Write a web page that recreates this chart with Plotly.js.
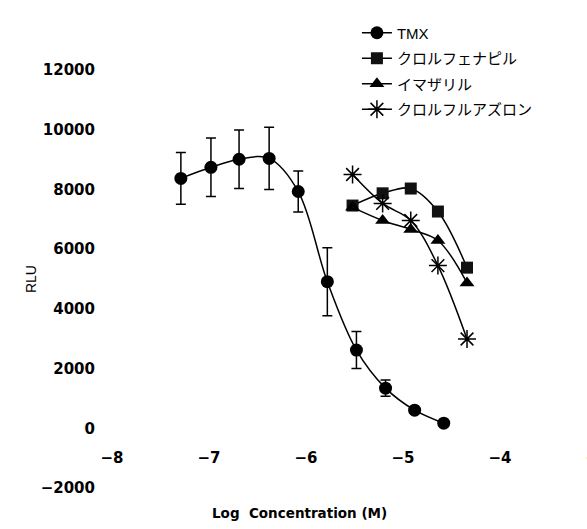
<!DOCTYPE html>
<html>
<head>
<meta charset="utf-8">
<script src="https://cdn.plot.ly/plotly-3.0.1.min.js"></script>
<style>
html,body{margin:0;padding:0;overflow:hidden;background:#fff;}
#chart{width:610px;height:529px;}
</style>
</head>
<body>
<div id="chart"></div>
<script>
// Log concentrations (M)
const tmxX = [-7.29, -6.98, -6.69, -6.38, -6.08, -5.78, -5.48, -5.18, -4.88, -4.58];
const tmxY = [8370, 8740, 9010, 9040, 7930, 4910, 2620, 1345, 605, 170];
const tmxErr = [870, 980, 980, 1040, 690, 1140, 620, 270, 0, 0];

const otherX = [-5.52, -5.21, -4.92, -4.64, -4.34];
const chlorfenapyrY = [7460, 7870, 8030, 7260, 5380];
const imazalilY = [7400, 6960, 6660, 6290, 4870];
const chlorfluazuronY = [8500, 7530, 6960, 5450, 2990];

const seriesNames = ["TMX", "クロルフェナピル", "イマザリル", "クロルフルアズロン"];
const xTicks = [-8, -7, -6, -5, -4, -3];
const yTicks = [-2000, 0, 2000, 4000, 6000, 8000, 10000, 12000];

const lineStyle = {color: "#000", width: 1.5, shape: "spline", smoothing: 1};
const tickFont = {family: "DejaVu Sans, sans-serif", size: 15, color: "#000", weight: "bold"};

const traces = [
  {
    x: tmxX, y: tmxY, name: seriesNames[0], type: "scatter", mode: "lines+markers",
    line: lineStyle, legendgroup: "a",
    marker: {symbol: "circle", size: 13, color: "#000"},
    error_y: {type: "data", array: tmxErr, visible: true, color: "#000", thickness: 1.5, width: 5}
  },
  {
    x: otherX, y: chlorfenapyrY, name: seriesNames[1], type: "scatter", mode: "lines+markers",
    line: lineStyle, legendgroup: "b",
    marker: {symbol: "square", size: 12, color: "#111"}
  },
  {
    x: otherX, y: imazalilY, name: seriesNames[2], type: "scatter", mode: "lines+markers",
    line: lineStyle, legendgroup: "c",
    marker: {symbol: "triangle-up", size: 13, color: "#000"}
  },
  {
    x: otherX, y: chlorfluazuronY, name: seriesNames[3], type: "scatter", mode: "lines+markers",
    line: lineStyle, legendgroup: "d",
    marker: {symbol: "asterisk-open", size: 15, color: "#000", line: {color: "#000", width: 1.5}}
  }
];

const layout = {
  width: 610, height: 529,
  margin: {l: 112, r: 13, t: 70, b: 41},
  paper_bgcolor: "#fff", plot_bgcolor: "#fff",
  showlegend: true,
  legend: {
    x: 0.505, y: 1.128, xanchor: "left", yanchor: "top",
    font: {family: "Liberation Sans, Noto Sans CJK JP, sans-serif", size: 15, color: "#000"},
    tracegroupgap: 3, bgcolor: "rgba(0,0,0,0)"
  },
  xaxis: {
    range: [-8, -3], tickvals: xTicks, ticktext: xTicks.map(v => "\u2212" + Math.abs(v)),
    showline: false, showgrid: false, zeroline: false, ticks: "",
    anchor: "free", position: 2000 / 14000,
    ticklabelstandoff: 19,
    tickfont: tickFont
  },
  yaxis: {
    range: [-2000, 12000], tickvals: yTicks, ticktext: yTicks.map(v => v < 0 ? "\u2212" + Math.abs(v) : String(v)),
    showline: false, showgrid: false, zeroline: false, ticks: "",
    ticklabelstandoff: 16,
    tickfont: tickFont,
    title: {text: "RLU", standoff: 0, font: {family: "Liberation Sans, sans-serif", size: 14, color: "#000"}}
  },
  annotations: [
    {
      text: "Log  Concentration (M)", xref: "x", yref: "paper",
      x: -6.07, y: -0.06, xanchor: "center", yanchor: "middle", showarrow: false,
      font: {family: "DejaVu Sans, sans-serif", size: 13.5, color: "#000", weight: "bold"}
    }
  ]
};

Plotly.newPlot("chart", traces, layout, {displayModeBar: false, staticPlot: true});
</script>
</body>
</html>
